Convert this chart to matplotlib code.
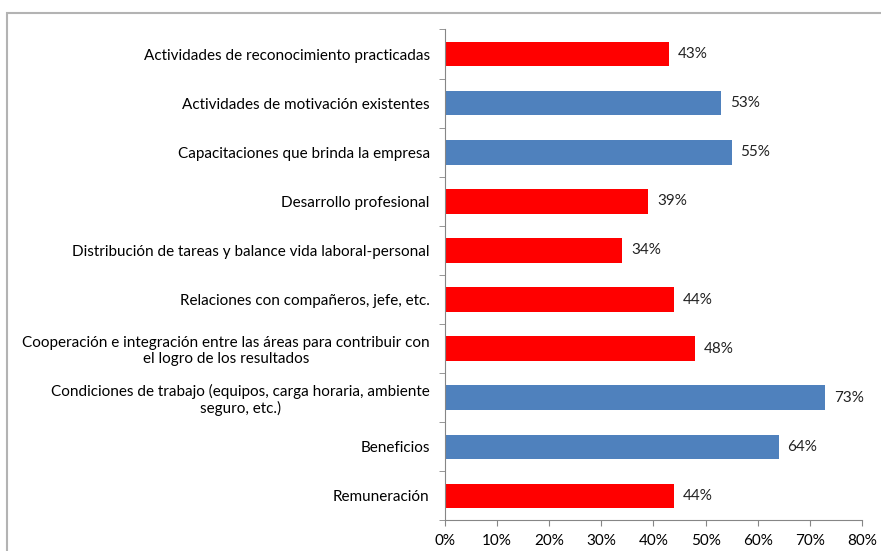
import matplotlib.pyplot as plt
import numpy as np
from matplotlib.patches import Rectangle
from matplotlib.ticker import FixedLocator

plt.rcParams['font.family'] = ['Lato', 'DejaVu Sans']

# data, top to bottom as shown in the chart
categories = [
    "Actividades de reconocimiento practicadas",
    "Actividades de motivación existentes",
    "Capacitaciones que brinda la empresa",
    "Desarrollo profesional",
    "Distribución de tareas y balance vida laboral-personal",
    "Relaciones con compañeros, jefe, etc.",
    "Cooperación e integración entre las áreas para contribuir con\nel logro de los resultados",
    "Condiciones de trabajo (equipos, carga horaria, ambiente\nseguro, etc.)",
    "Beneficios",
    "Remuneración",
]
values = [43, 53, 55, 39, 34, 44, 48, 73, 64, 44]
highlight = [False, True, True, False, False, False, False, True, True, False]

red = '#FF0000'
blue = '#4F81BD'
colors = [blue if h else red for h in highlight]

fig = plt.figure(figsize=(8.81, 5.51), dpi=100)
ax = fig.add_axes([0.5051, 0.0554, 0.4733, 0.8911])

y = np.arange(len(categories))
ax.barh(y, values, height=0.5, color=colors)

for yi, v in zip(y, values):
    ax.text(v + 1.7, yi, f'{v}%', va='center', ha='left', fontsize=11, color='#222222')

ax.set_yticks(y)
ax.set_yticklabels(categories, fontsize=11, multialignment='center', linespacing=1.15)
ax.set_ylim(len(categories) - 0.5, -0.5)
ax.yaxis.set_minor_locator(FixedLocator(np.arange(-0.5, len(categories), 1)))
ax.tick_params(axis='y', which='major', length=0, pad=11)
ax.tick_params(axis='y', which='minor', length=4, color='#868686')

ax.set_xlim(0, 80)
ax.set_xticks(np.arange(0, 81, 10))
ax.set_xticklabels([f'{t}%' for t in range(0, 81, 10)], fontsize=11)
ax.tick_params(axis='x', length=4, color='#868686', pad=6)

for s in ['top', 'right']:
    ax.spines[s].set_visible(False)
for s in ['left', 'bottom']:
    ax.spines[s].set_color('#868686')

# outer chart border (partly cut off at right and bottom)
fig.patches.append(Rectangle((6.5 / 881, -0.1), 1.2, 1 - 12.5 / 551 + 0.1,
                             transform=fig.transFigure, fill=False,
                             edgecolor='#B3B3B3', linewidth=1.5))

fig.savefig('out.png', dpi=100)
